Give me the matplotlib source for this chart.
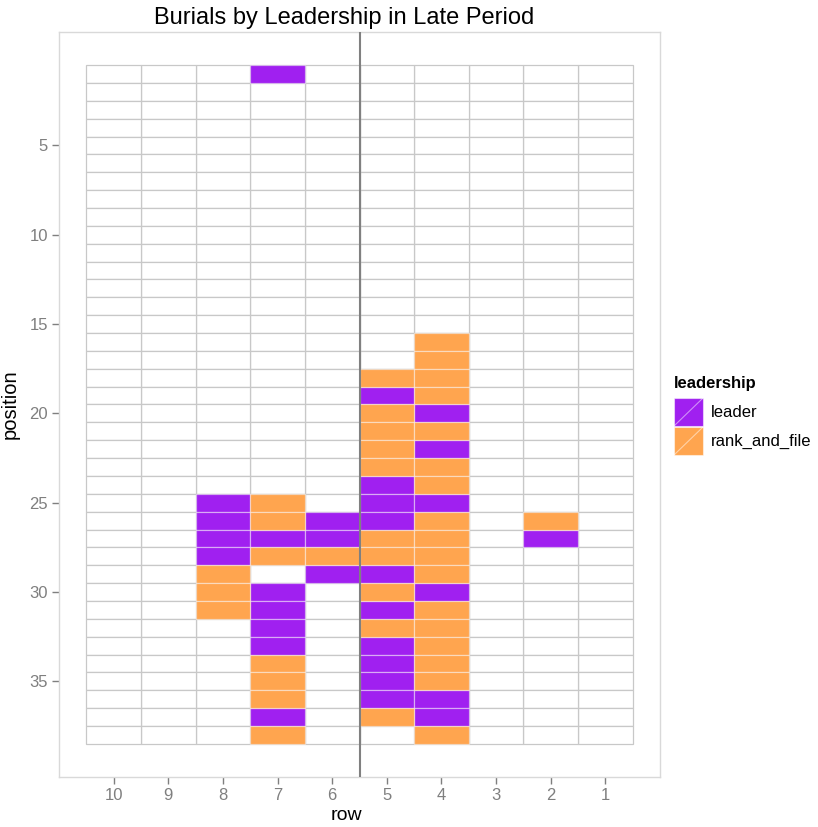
import matplotlib
matplotlib.use("Agg")
import matplotlib.pyplot as plt
from matplotlib.patches import Rectangle
from matplotlib.lines import Line2D

plt.rcParams['font.family'] = ['Liberation Sans', 'DejaVu Sans']

# burials: row (x), position (y), leadership
burial_row = [7,
              8, 8, 8, 8, 8, 8, 8,
              7, 7, 7, 7, 7, 7, 7, 7, 7, 7, 7, 7, 7,
              6, 6, 6, 6,
              5, 5, 5, 5, 5, 5, 5, 5, 5, 5, 5, 5, 5, 5, 5, 5, 5, 5, 5, 5,
              4, 4, 4, 4, 4, 4, 4, 4, 4, 4, 4, 4, 4, 4, 4, 4, 4, 4, 4, 4, 4, 4, 4,
              2, 2]
burial_position = [1,
                   25, 26, 27, 28, 29, 30, 31,
                   25, 26, 27, 28, 30, 31, 32, 33, 34, 35, 36, 37, 38,
                   26, 27, 28, 29,
                   18, 19, 20, 21, 22, 23, 24, 25, 26, 27, 28, 29, 30, 31, 32, 33, 34, 35, 36, 37,
                   16, 17, 18, 19, 20, 21, 22, 23, 24, 25, 26, 27, 28, 29, 30, 31, 32, 33, 34, 35, 36, 37, 38,
                   26, 27]
L, R = "leader", "rank_and_file"
burial_leadership = [L,
                     L, L, L, L, R, R, R,
                     R, R, L, R, L, L, L, L, R, R, R, L, R,
                     L, L, R, L,
                     R, L, R, R, R, R, L, L, L, R, R, L, R, L, R, L, L, L, L, R,
                     R, R, R, R, L, R, L, R, R, L, R, R, R, R, L, R, R, R, R, R, L, L, R,
                     R, L]

all_rows = list(range(1, 11))
all_positions = list(range(1, 39))
levels = ["leader", "rank_and_file"]
colors = {"leader": "#A020F0", "rank_and_file": "#FFA54F"}

fig = plt.figure(figsize=(8.18, 8.27), dpi=100)
W, H = 818, 827
ax = fig.add_axes([59 / W, (H - 777) / H, (660 - 59) / W, (777 - 32) / H])

# empty grid of all cells
gx = [r for r in all_rows for p in all_positions]
gy = [p - 0.5 for r in all_rows for p in all_positions]
ax.bar(gx, 1, bottom=gy, width=1, color="white", edgecolor="#c8c8c8", linewidth=0.9, zorder=1)

# burials
for lev in levels:
    xs = [r for r, l in zip(burial_row, burial_leadership) if l == lev]
    ys = [p - 0.5 for p, l in zip(burial_position, burial_leadership) if l == lev]
    ax.bar(xs, 1, bottom=ys, width=1, color=colors[lev],
           edgecolor=(1, 1, 1, 0.45), linewidth=0.9, zorder=2)

ax.axvline(5.5, color="#808080", linewidth=1.5, zorder=3)

ax.set_xlim(11, 0)
ax.set_ylim(40.35, -1.35)
ax.set_xticks(all_rows)
ax.set_yticks([5, 10, 15, 20, 25, 30, 35])
ax.tick_params(colors="#7f7f7f", labelsize=12, length=5, width=1, pad=3)
for s in ax.spines.values():
    s.set_color("#d9d9d9")
    s.set_linewidth(1)

fig.text(346 / W, 1 - 815 / H, "row", fontsize=14, ha="center", va="center")
ax.set_ylabel("position", fontsize=14.5, labelpad=7)

fig.text(344 / W, 1 - 18 / H, "Burials by Leadership in Late Period",
         ha="center", va="center", fontsize=17)

# legend
fig.text(674 / W, 1 - 384 / H, "leadership", fontsize=12, fontweight="bold",
         ha="left", va="center")
key_tops = [398, 427]
for lev, top in zip(levels, key_tops):
    x0, y0 = 674 / W, 1 - (top + 28) / H
    w, h = 29 / W, 28 / H
    fig.patches.append(Rectangle((x0, y0), w, h, transform=fig.transFigure,
                                 facecolor=colors[lev], edgecolor=(1, 1, 1, 0.5), linewidth=0.8))
    fig.lines.append(Line2D([x0, x0 + w], [y0, y0 + h], transform=fig.transFigure,
                           color=(1, 1, 1, 0.5), linewidth=0.8))
    fig.text(711 / W, y0 + h / 2, lev, fontsize=12, ha="left", va="center")

fig.savefig("out.png", dpi=100)
